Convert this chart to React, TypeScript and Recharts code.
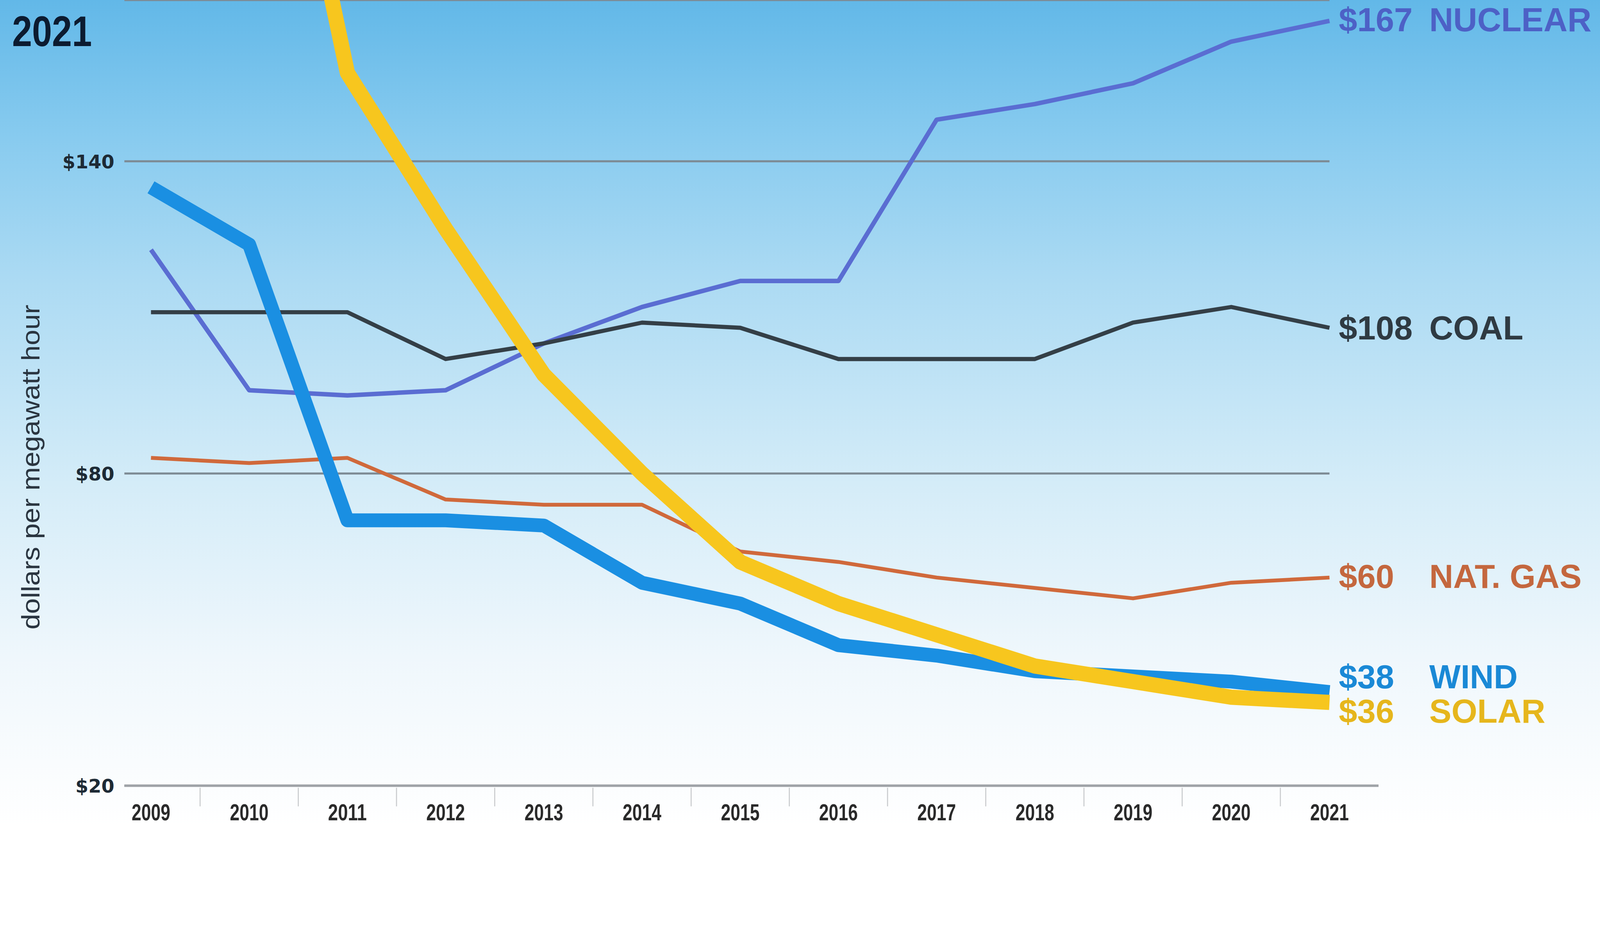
import React, { useState, useEffect } from 'react';
import { LineChart, Line, XAxis, YAxis, CartesianGrid, LabelList } from 'recharts';

const years = ['2009', '2010', '2011', '2012', '2013', '2014', '2015', '2016', '2017', '2018', '2019', '2020', '2021'];
const nuclear = [123, 96, 95, 96, 105, 112, 117, 117, 148, 151, 155, 163, 167];
const coal = [111, 111, 111, 102, 105, 109, 108, 102, 102, 102, 109, 112, 108];
const gas = [83, 82, 83, 75, 74, 74, 65, 63, 60, 58, 56, 59, 60];
const wind = [135, 124, 71, 71, 70, 59, 55, 47, 45, 42, 41, 40, 38];
const solar: (number | null)[] = [null, 246, 157, 127, 99, 80, 63, 55, 49, 43, 40, 37, 36];
const yTicks = [20, 80, 140];

const seriesInfo = [
  { key: 'nuclear', name: 'NUCLEAR', color: '#5a6dd2', label: '#4d61c6', width: 13, dy: -4 },
  { key: 'coal', name: 'COAL', color: '#343f47', label: '#2f3a42', width: 12, dy: 0 },
  { key: 'gas', name: 'NAT. GAS', color: '#d0693b', label: '#c4673e', width: 11, dy: -4 },
  { key: 'wind', name: 'WIND', color: '#1a8fe2', label: '#1a89d6', width: 40, dy: -45 },
  { key: 'solar', name: 'SOLAR', color: '#f7c61e', label: '#e6b61c', width: 44, dy: 25 },
];

const data = years.map((y, i) => ({
  year: y,
  nuclear: nuclear[i],
  coal: coal[i],
  gas: gas[i],
  wind: wind[i],
  solar: solar[i],
}));

const W = 4631;
const H = 2391;
const M_RIGHT = 641;
const Y_W = 360;
const X_H = 117;
const PAD_L = 77;
const PAD_R = 142;
const plotW = W - M_RIGHT - Y_W;
const halfStep = (plotW - PAD_L - PAD_R) / (years.length - 1) / 2;

const XTick = (props: any) => {
  const { x, y, payload, index } = props;
  return (
    <g>
      {index > 0 && (
        <line x1={x - halfStep} x2={x - halfStep} y1={y + 6} y2={y + 60} stroke="#c9cbcd" strokeWidth={3} />
      )}
      <text
        x={x}
        y={y + 100}
        textAnchor="middle"
        fontFamily="'Liberation Sans', Arial, sans-serif"
        fontWeight="bold"
        fontSize={68}
        fill="#2a2a2a"
        textLength={112}
        lengthAdjust="spacingAndGlyphs"
      >
        {payload.value}
      </text>
    </g>
  );
};

const YTick = (props: any) => {
  const { x, y, payload } = props;
  return (
    <text
      x={x}
      y={y}
      dy={20}
      textAnchor="end"
      fontFamily="'DejaVu Sans', sans-serif"
      fontWeight="bold"
      fontSize={54}
      fill="#1d2a35"
    >
      {'$' + payload.value}
    </text>
  );
};

const makeEndLabel = (s: any) => (props: any) => {
  const { x, y, index, value } = props;
  if (index !== years.length - 1 || value == null) return null;
  const bx = x + 27;
  const by = y + s.dy + 34;
  return (
    <text
      key={s.key + '-lbl'}
      y={by}
      fontFamily="'Liberation Sans', Arial, sans-serif"
      fontWeight="bold"
      fontSize={96}
      fill={s.label}
    >
      <tspan x={bx}>{'$' + value}</tspan>
      <tspan x={bx + 262}>{s.name}</tspan>
    </text>
  );
};

const gridLine = (props: any) => {
  const { x1, x2, y1, y2, key } = props;
  return <line key={key} x1={x1} x2={x2 - PAD_R} y1={y1} y2={y2} stroke="#7d8a94" strokeWidth={6} />;
};

const YLabel = (props: any) => {
  const vb = props.viewBox || { x: 0, y: 0 };
  const cx = vb.x + 89;
  const cy = vb.y + 1352;
  return (
    <text
      x={cx}
      y={cy}
      transform={`rotate(-90 ${cx} ${cy})`}
      textAnchor="middle"
      dominantBaseline="central"
      fontFamily="'Liberation Sans', Arial, sans-serif"
      fontSize={74}
      fill="#2a3540"
      textLength={940}
      lengthAdjust="spacingAndGlyphs"
    >
      dollars per megawatt hour
    </text>
  );
};

function getScale() {
  if (typeof window === 'undefined') return 1;
  const sw = window.innerWidth / W;
  const sh = window.innerHeight / H;
  const s = Math.min(sw, sh);
  return s > 0 && isFinite(s) ? s : 1;
}

export default function App() {
  const [scale, setScale] = useState(getScale);
  useEffect(() => {
    const on = () => setScale(getScale());
    window.addEventListener('resize', on);
    return () => window.removeEventListener('resize', on);
  }, []);
  return (
    <div
      style={{
        position: 'absolute',
        left: 0,
        top: 0,
        width: W * scale,
        height: H * scale,
      }}
    >
      <div
        style={{
          position: 'relative',
          width: W,
          height: H,
          transform: `scale(${scale})`,
          transformOrigin: '0 0',
          background:
            'linear-gradient(to bottom, #62b8e8 0%, #88cbef 16.7%, #abdaf3 33.5%, #d4ecf8 58.5%, #eff7fc 79.5%, #ffffff 100%)',
        }}
      >
        <svg width={W} height={H} style={{ position: 'absolute', left: 0, top: 0 }}>
          <text
            x={35}
            y={133}
            fontFamily="'Liberation Sans', Arial, sans-serif"
            fontWeight="bold"
            fontSize={124}
            fill="#0c1b30"
            textLength={231}
            lengthAdjust="spacingAndGlyphs"
          >
            2021
          </text>
        </svg>
        <div style={{ position: 'absolute', left: 0, top: 0 }}>
          <LineChart width={W} height={H} data={data} margin={{ top: 0, right: M_RIGHT, bottom: 0, left: 0 }}>
            <CartesianGrid vertical={false} horizontal={gridLine} />
            <XAxis
              dataKey="year"
              height={X_H}
              padding={{ left: PAD_L, right: PAD_R }}
              tickSize={0}
              tickMargin={0}
              tickLine={false}
              axisLine={{ stroke: '#9fa3a7', strokeWidth: 7 }}
              tick={<XTick />}
              interval={0}
            />
            <YAxis
              width={Y_W}
              domain={[20, 171]}
              allowDataOverflow
              ticks={yTicks}
              tickSize={0}
              tickMargin={29}
              tickLine={false}
              axisLine={false}
              tick={<YTick />}
              label={<YLabel />}
            />
            {seriesInfo.map((s) => (
              <Line
                key={s.key}
                type="linear"
                dataKey={s.key}
                stroke={s.color}
                strokeWidth={s.width}
                strokeLinejoin="round"
                strokeLinecap="butt"
                dot={false}
                activeDot={false}
                isAnimationActive={false}
              >
                <LabelList dataKey={s.key} content={makeEndLabel(s)} />
              </Line>
            ))}
          </LineChart>
        </div>
      </div>
    </div>
  );
}
